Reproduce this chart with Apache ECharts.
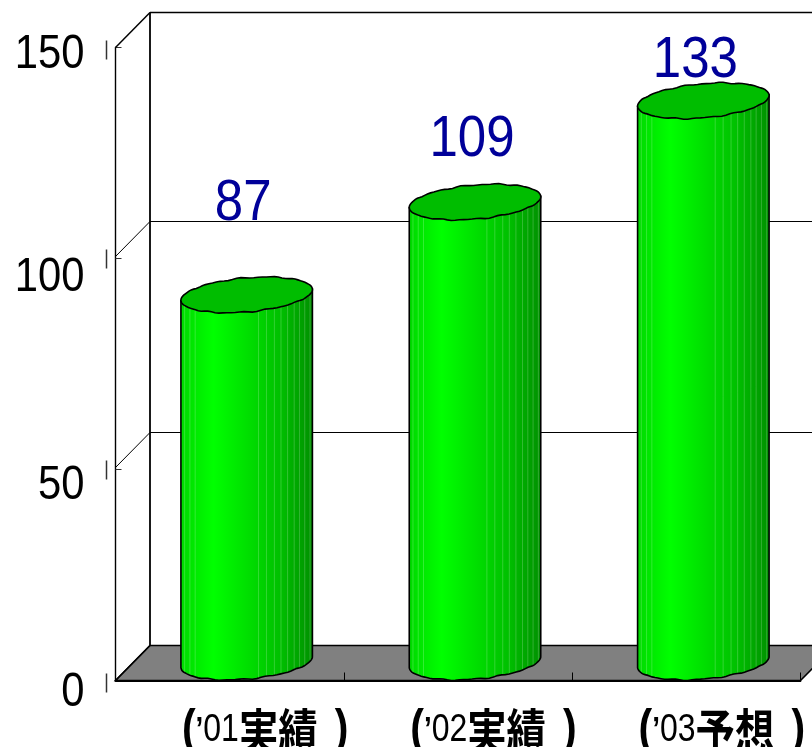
<!DOCTYPE html>
<html><head><meta charset="utf-8">
<style>html,body{margin:0;padding:0;background:#fff}#c{width:812px;height:747px}</style>
<script src="https://cdn.jsdelivr.net/npm/echarts@6/dist/echarts.min.js"></script>
</head><body><div id="c"></div>
<script>
const categories = ["01実績", "02実績", "03予想"];
const values = [87, 109, 133];
const yTicks = [0, 50, 100, 150];

const DX = 34.5, DY = -35;
const labelNudge = [[-3.5, -91], [-3, -62], [-8, -40]];
const tickNudge = {0: 12, 50: 16, 100: 19, 150: 7};
const wallNudge = {0: 0, 50: -2, 100: -2, 150: 0};
const stripes = [.03,.07,.11,.59,.65,.71,.76,.81,.86,.90,.94,.98];
const TILT = 5 * Math.PI / 180;
const SANS = '"Liberation Sans", Arial, sans-serif';
const CJK = '"Noto Sans CJK JP", sans-serif';

const chart = echarts.init(document.getElementById('c'), null, {renderer: 'canvas'});

function ellipsePt(cx, cy, rx, ry, t, seed) {
  const w = 0.45*Math.sin(13*t + seed) + 0.35*Math.sin(21*t + seed*2);
  return [cx + rx*Math.cos(t)*Math.cos(TILT) + ry*Math.sin(t)*Math.sin(TILT),
          cy - rx*Math.cos(t)*Math.sin(TILT) + ry*Math.sin(t)*Math.cos(TILT) + w*Math.abs(Math.sin(t))];
}
function frameItem(params, api) {
  const bw = api.size([1, 0])[0];
  const p = v => api.coord([0, v]);
  const left = p(0)[0] - bw/2;
  const right = left + bw*3;
  const y0 = p(0)[1];
  const line = (x1,y1,x2,y2,w,c) => ({type:'line', shape:{x1,y1,x2,y2}, style:{stroke:c||'#000', lineWidth:w||1}});
  const ch = [];
  ch.push({type:'polygon', shape:{points:[[left,y0],[left+DX,y0+DY],[right+DX,y0+DY],[right,y0]]},
           style:{fill:'#808080', stroke:'#000', lineWidth:1.5}});
  ch.push(line(left+DX, y0+DY, left+DX, p(150)[1]+DY, 1.8));
  yTicks.forEach(v => {
    const y = p(v)[1] + wallNudge[v];
    ch.push(line(left, y, left+DX, y+DY, v===0||v===150?1.5:1));
    if (v>0) ch.push(line(left+DX, y+DY, right+DX, y+DY, v===150?1.5:1));
    ch.push(line(left-9, y-7, left-9, y+12, 1.5, '#333'));
    ch.push({type:'text', x:84.5, y:p(v)[1]+tickNudge[v], scaleX:.87,
      style:{text:String(v), font:'48px '+SANS, fill:'#000', align:'right', verticalAlign:'middle'}});
  });
  return {type:'group', children:ch};
}
function cylItem(params, api) {
  const i = api.value(0), v = api.value(1);
  const top = api.coord([i, v]), base = api.coord([i, 0]);
  const cx = base[0] + 17, rx = 66, ry = 17;
  const cyB = base[1] - 18.5, cyT = top[1] - 18.5;
  const seed = 1 + i;
  const pts = [ellipsePt(cx, cyT, rx, ry, Math.PI, seed)];
  const N = 48;
  for (let k=0;k<=N;k++) pts.push(ellipsePt(cx, cyB, rx, ry, Math.PI*(1-k/N), seed));
  pts.push(ellipsePt(cx, cyT, rx, ry, 0, seed));
  const ch = [{type:'polygon', shape:{points:pts}, style:{
      stroke:'#000', lineWidth:1.6,
      fill:{type:'linear',x:0,y:0,x2:1,y2:0,colorStops:[
        {offset:0,color:'#00d800'},{offset:.25,color:'#00ff00'},{offset:.5,color:'#00e000'},
        {offset:.75,color:'#00c000'},{offset:1,color:'#009000'}]}}}];
  const lowY = (x, cy) => {
    let best = pts[0][1], d = 1e9;
    for (let k=0;k<=N;k++){ const q=ellipsePt(cx,cy,rx,ry,Math.PI*(1-k/N),seed); const e=Math.abs(q[0]-x); if(e<d){d=e;best=q[1];} }
    return best;
  };
  stripes.forEach(f => {
    const x = cx - rx + 2*rx*f;
    ch.push({type:'line', shape:{x1:x,y1:lowY(x,cyT),x2:x,y2:lowY(x,cyB)-1},
             style:{stroke:'rgba(255,255,255,.2)', lineWidth:1}});
  });
  const tp = [];
  for (let k=0;k<=96;k++) tp.push(ellipsePt(cx, cyT, rx, ry, 2*Math.PI*k/96, seed));
  ch.push({type:'polygon', shape:{points:tp}, style:{fill:'#00bd00', stroke:'#000', lineWidth:1.6}});
  const n = labelNudge[i];
  ch.push({type:'text', x:cx+n[0], y:cyT+n[1], scaleX:.88,
    style:{text:String(v), font:'58px '+SANS, fill:'#000099', align:'center', verticalAlign:'middle'}});
  const name = categories[i];
  ch.push({type:'text', x:base[0]+35.5, y:base[1]+50, scaleX:.82,
    style:{text:'{p|(}{q|’}{d|'+name.slice(0,2)+'}{k|'+name.slice(2)+' }{s| }{p|)}',
      align:'center', verticalAlign:'middle', fill:'#000',
      rich:{
        p:{font:'bold 50px '+SANS, fill:'#000'},
        q:{font:'bold 34px '+SANS, fill:'#000'},
        s:{font:'bold 36px '+SANS, fill:'#000'},
        d:{font:'39px '+SANS, fill:'#000'},
        k:{font:'bold 48px '+CJK, fill:'#000'}
      }}});
  return {type:'group', children:ch};
}

chart.setOption({
  animation:false,
  backgroundColor:'#fff',
  grid:{left:115.5, width:685, top:47.5, height:633},
  xAxis:{type:'category', data:categories, z:5,
    axisLine:{show:true, lineStyle:{color:'#000', width:1.8}},
    axisTick:{show:true, inside:true, length:8, lineStyle:{color:'#000', width:1}},
    axisLabel:{show:false}, splitLine:{show:false}},
  yAxis:{type:'value', min:0, max:150, interval:50,
    axisLine:{show:true, lineStyle:{color:'#000', width:1.4}},
    axisTick:{show:true, inside:true, length:6, lineStyle:{color:'#333', width:1}},
    axisLabel:{show:false}, splitLine:{show:false}},
  series:[
    {type:'custom', z:1, silent:true, renderItem:frameItem, data:[[0,0]], encode:{x:0,y:1}},
    {type:'custom', z:2, silent:true, renderItem:cylItem,
     data:values.map((v,i)=>[i,v]), encode:{x:0,y:1}}
  ]
});
</script></body></html>
